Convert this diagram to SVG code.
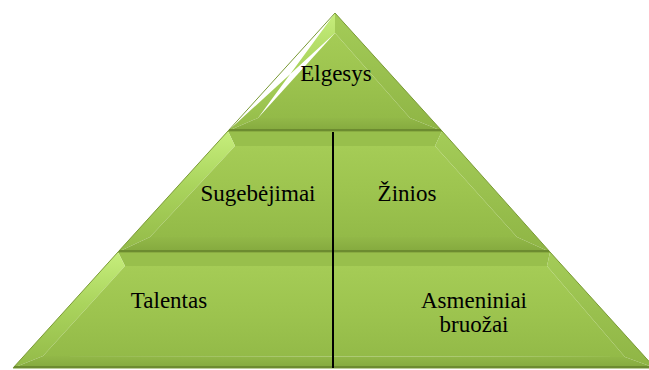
<svg xmlns="http://www.w3.org/2000/svg" width="649" height="370" viewBox="0 0 649 370">
<defs>
<style>
.lbl{font-family:"Liberation Serif","Times New Roman",serif;font-size:23px;fill:#000;text-anchor:middle}
.edge{fill:none;stroke:#7a9a36;stroke-width:1}
.lf{fill:url(#gLeft)}
.rf{fill:url(#gRight)}
.bf{fill:url(#gBot)}
.tf{fill:#98bf4c}
.face{fill:url(#gFace)}
.seam{stroke:#6c8b30;stroke-width:2}
.div{stroke:#000;stroke-width:2}
</style>
<linearGradient id="gFace" x1="0" y1="0" x2="0" y2="1">
<stop offset="0" stop-color="#a5cc56"/>
<stop offset="0.5" stop-color="#9dc44f"/>
<stop offset="1" stop-color="#93ba48"/>
</linearGradient>
<linearGradient id="gLeft" x1="0" y1="0" x2="0" y2="1">
<stop offset="0" stop-color="#c6ee7c"/>
<stop offset="0.45" stop-color="#aad45d"/>
<stop offset="1" stop-color="#93ba48"/>
</linearGradient>
<linearGradient id="gRight" x1="0" y1="0" x2="0" y2="1">
<stop offset="0" stop-color="#a4cc58"/>
<stop offset="1" stop-color="#8fb545"/>
</linearGradient>
<linearGradient id="gBot" x1="0" y1="0" x2="0" y2="1">
<stop offset="0" stop-color="#92b848"/>
<stop offset="1" stop-color="#84a93e"/>
</linearGradient>
</defs>
<rect width="649" height="370" fill="#fff"/>

<g id="tier-top">
<polygon class="lf" points="335,13 258,118 228,131 335,33"/>
<polygon class="rf" points="335,13 442,131 410,118 335,33"/>
<polygon class="bf" points="228,131 442,131 410,118 258,118"/>
<polygon class="face" points="335,33 410,118 258,118"/>
<polygon class="edge" points="335,13 442,131 228,131"/>
</g>

<g id="tier-middle">
<polygon class="tf" points="228,131 442,131 435,146 235,146"/>
<polygon class="lf" points="228,131 235,146 150,237 118,252"/>
<polygon class="rf" points="442,131 550,252 517,237 435,146"/>
<polygon class="bf" points="118,252 550,252 517,237 150,237"/>
<polygon class="face" points="235,146 435,146 517,237 150,237"/>
<polygon class="edge" points="228,131 442,131 550,252 118,252"/>
</g>

<g id="tier-bottom">
<polygon class="tf" points="118,252 550,252 547,266 125,266"/>
<polygon class="lf" points="118,252 125,266 43,356 13,368"/>
<polygon class="rf" points="550,252 655,368 625,357 547,266"/>
<polygon class="bf" points="13,368 655,368 625,357 43,356"/>
<polygon class="face" points="125,266 547,266 625,357 43,356"/>
<polygon class="edge" points="118,252 550,252 655,368 13,368"/>
</g>

<line class="seam" x1="229" y1="130" x2="441" y2="130"/>
<line class="seam" x1="119" y1="251" x2="549" y2="251"/>
<line class="seam" x1="14" y1="367" x2="649" y2="367"/>

<g id="connectors">
<line class="div" x1="333" y1="132" x2="333" y2="368"/>
</g>

<g id="node-elgesys"><text class="lbl" x="336" y="81">Elgesys</text></g>
<g id="node-sugebejimai"><text class="lbl" x="258" y="201">Sugebėjimai</text></g>
<g id="node-zinios"><text class="lbl" x="407" y="201">Žinios</text></g>
<g id="node-talentas"><text class="lbl" x="169" y="308">Talentas</text></g>
<g id="node-asmeniniai"><text class="lbl" x="474" y="308">Asmeniniai</text><text class="lbl" x="474" y="332">bruožai</text></g>
</svg>
